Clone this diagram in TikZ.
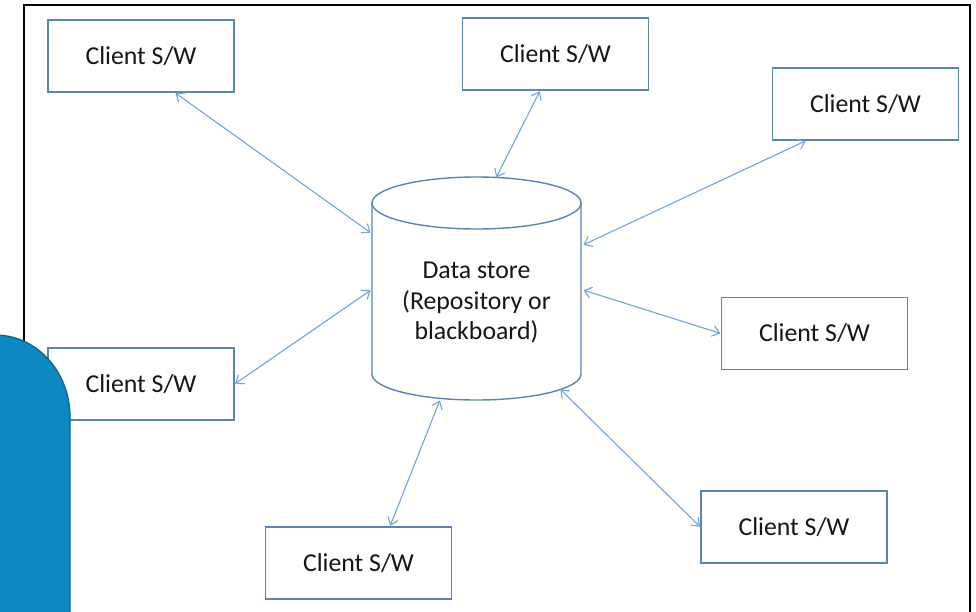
\documentclass[tikz,border=0pt]{standalone}
\usepackage{fontspec}
\setmainfont{Carlito}
\usetikzlibrary{arrows.meta}
\definecolor{boxline}{HTML}{5A84B4}
\definecolor{linkblue}{HTML}{6FA5DB}
\definecolor{tabfill}{HTML}{0E88C0}
\definecolor{tabedge}{HTML}{0A6690}
\definecolor{ink}{HTML}{161616}
\begin{document}
\begin{tikzpicture}[x=1pt,y=-1pt,
  client/.style={draw=boxline, line width=1.4pt, fill=white, minimum width=186pt,
    minimum height=72pt, inner sep=0pt, text=ink, font=\fontsize{25.8}{30}\selectfont},
  link/.style={draw=linkblue, line width=1.1pt, {Straight Barb[length=7pt,width=11pt]}-{Straight Barb[length=7pt,width=11pt]}, shorten <=0.5pt, shorten >=0.5pt}]
\useasboundingbox (0,0) rectangle (976,611);
\fill[white] (0,0) rectangle (976,611);

% outer frame
\draw[black, line width=1.4pt] (24,640) -- (24,5) -- (970,5) -- (970,640);

% data store cylinder
\draw[boxline, line width=1.4pt, fill=white]
  (372,203) -- (372,374)
  arc[start angle=180, end angle=360, x radius=104.5pt, y radius=26pt]
  -- (581,203);
\draw[boxline, line width=1.4pt]
  (476.5,203) ellipse [x radius=104.5pt, y radius=26pt];
\node[text=ink, font=\fontsize{25.8}{30.5}\selectfont, align=center, inner sep=0pt,
  minimum width=209pt, minimum height=223pt] (ds) at (476.5,303) {Data store\\(Repository or\\blackboard)};

% attachment points on the cylinder
\coordinate (ds-nw) at (371,233);
\coordinate (ds-w)  at (371,290);
\coordinate (ds-n)  at (496,178);
\coordinate (ds-ne) at (583,245);
\coordinate (ds-e)  at (583,290);
\coordinate (ds-s)  at (440,400);
\coordinate (ds-se) at (560,389);

% clients
\node[client] (c1) at (141,56)    {Client S/W};
\node[client] (c2) at (555.5,54)  {Client S/W};
\node[client] (c3) at (865.5,104) {Client S/W};
\node[client] (c4) at (814.5,333.5) {Client S/W};
\node[client] (c5) at (141,384)   {Client S/W};
\node[client] (c6) at (794,527)   {Client S/W};
\node[client] (c7) at (358.5,563) {Client S/W};

% links
\draw[link] ([xshift=34pt]c1.south) -- (ds-nw);
\draw[link] ([xshift=-15.5pt]c2.south) -- (ds-n);
\draw[link] ([xshift=-59.5pt]c3.south) -- (ds-ne);
\draw[link] (c4.west) -- (ds-e);
\draw[link] (c5.east) -- (ds-w);
\draw[link] (c6.west) -- (ds-se);
\draw[link] ([xshift=31.5pt]c7.north) -- (ds-s);

% side tab at the lower left
\fill[tabfill, draw=tabedge, line width=1.3pt]
  (-10,335) -- (-5,335) .. controls (37,335) and (70,372) .. (70,417) -- (70,630) -- (-10,630) -- cycle;
\end{tikzpicture}
\end{document}
